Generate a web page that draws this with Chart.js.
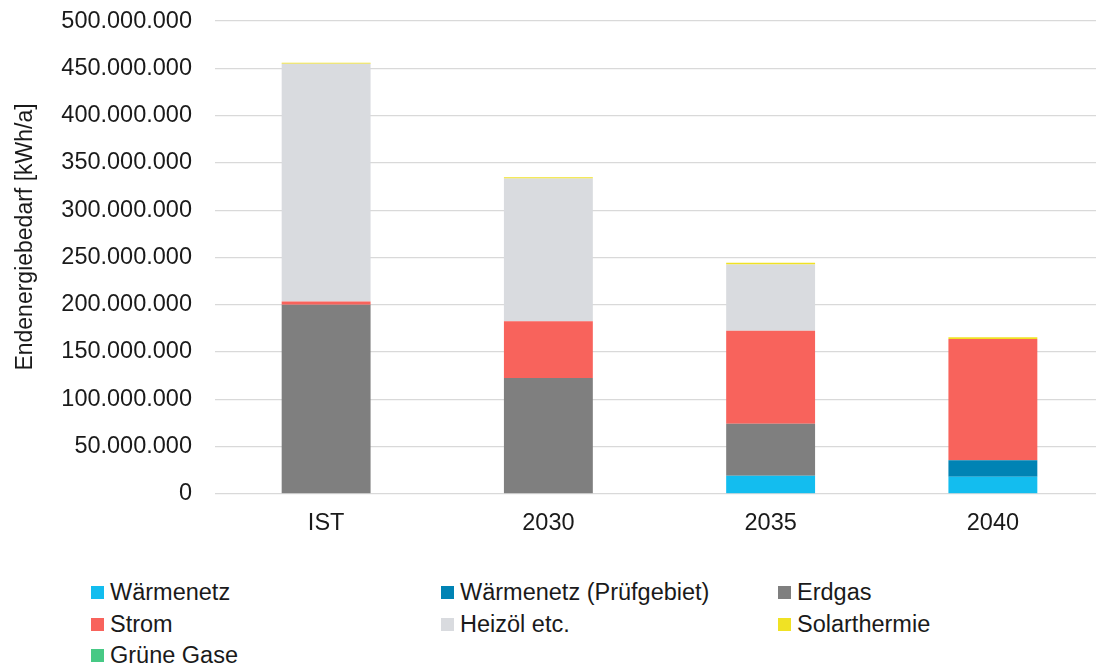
<!DOCTYPE html>
<html>
<head>
<meta charset="utf-8">
<script src="https://cdn.jsdelivr.net/npm/chart.js@4/dist/chart.umd.min.js"></script>
<style>
  html, body { margin: 0; padding: 0; background: #fff; overflow: hidden; }
  body { width: 1096px; height: 666px; position: relative; font-family: "Liberation Sans", Arial, sans-serif; }
  #wrap { position: absolute; left: 0; top: -16px; width: 1104px; height: 576px; }
  #legend { position: absolute; left: 91px; top: 577px; display: grid;
            grid-template-columns: 350px 337px 300px; grid-auto-rows: 31.5px; }
  .item { display: flex; align-items: center; font-size: 23.5px; color: #1a1a1a; white-space: nowrap; }
  .box { width: 13px; height: 13px; margin-right: 6px; flex: none; }
</style>
</head>
<body>
<div id="wrap"><canvas id="chart"></canvas></div>
<div id="legend"></div>
<script>
const categories = ['IST', '2030', '2035', '2040'];

// values in kWh/a, bottom to top of each stack
const waermenetz       = [0, 0, 19e6, 18e6];
const waermenetzPruef  = [0, 0, 0, 17.5e6];
const erdgas           = [200e6, 122.5e6, 55e6, 0];
const grueneGase       = [0, 0, 0, 0];
const strom            = [3.5e6, 60e6, 98.5e6, 128.2e6];
const heizoel          = [251.5e6, 151e6, 70e6, 0];
const solarthermie     = [1e6, 1.3e6, 1.8e6, 1.9e6];

const legendOrder = ['Wärmenetz', 'Wärmenetz (Prüfgebiet)', 'Erdgas', 'Strom', 'Heizöl etc.', 'Solarthermie', 'Grüne Gase'];

const TEXT = '#1a1a1a';
const FONT = '"Liberation Sans", Arial, sans-serif';

function fmt(v) {
  return String(Math.round(v)).replace(/\B(?=(\d{3})+(?!\d))/g, '.');
}

let datasets = [
  {label: 'Wärmenetz', data: waermenetz, backgroundColor: '#13bdef'},
  {label: 'Wärmenetz (Prüfgebiet)', data: waermenetzPruef, backgroundColor: '#0083b4'},
  {label: 'Erdgas', data: erdgas, backgroundColor: '#7f7f7f'},
  {label: 'Grüne Gase', data: grueneGase, backgroundColor: '#47c985'},
  {label: 'Strom', data: strom, backgroundColor: '#f8635c'},
  {label: 'Heizöl etc.', data: heizoel, backgroundColor: '#d9dbdf'},
  {label: 'Solarthermie', data: solarthermie, backgroundColor: '#f0e224'},
].map(d => Object.assign(d, {barPercentage: 0.4, categoryPercentage: 1.0, borderWidth: 0}));

// y axis title sits a bit above the plot centre in the original
// (canvas is shifted up 16px, so 237 on the page is 253 here)
const yTitle = {
  id: 'yTitle',
  afterDraw(chart) {
    let ctx = chart.ctx;
    ctx.save();
    ctx.translate(26, 253);
    ctx.rotate(-Math.PI / 2);
    ctx.font = '23px ' + FONT;
    ctx.fillStyle = TEXT;
    ctx.textAlign = 'center';
    ctx.textBaseline = 'middle';
    ctx.fillText('Endenergiebedarf [kWh/a]', 0, 0);
    ctx.restore();
  }
};

new Chart(document.getElementById('chart'), {
  type: 'bar',
  data: {labels: categories, datasets: datasets},
  plugins: [yTitle],
  options: {
    responsive: true,
    maintainAspectRatio: false,
    animation: false,
    devicePixelRatio: 1,
    layout: {padding: {top: 4, right: 0, bottom: 14, left: 0}},
    plugins: {legend: {display: false}, tooltip: {enabled: false}},
    scales: {
      x: {
        stacked: true,
        grid: {display: false},
        border: {display: false},
        ticks: {color: TEXT, font: {family: FONT, size: 23.5}, padding: 8}
      },
      y: {
        stacked: true,
        min: 0,
        max: 500e6,
        afterFit(scale) { scale.width = 215; },
        grid: {color: '#d9d9d9', lineWidth: 1.3, drawTicks: false},
        border: {display: false},
        ticks: {
          stepSize: 50e6,
          color: TEXT,
          font: {family: FONT, size: 23.5},
          padding: 23,
          callback: v => fmt(v)
        }
      }
    }
  }
});

let legend = document.getElementById('legend');
legendOrder.forEach(name => {
  let ds = datasets.find(d => d.label == name);
  let item = document.createElement('div');
  item.className = 'item';
  let box = document.createElement('span');
  box.className = 'box';
  box.style.background = ds.backgroundColor;
  item.appendChild(box);
  item.appendChild(document.createTextNode(name));
  legend.appendChild(item);
});
</script>
</body>
</html>
